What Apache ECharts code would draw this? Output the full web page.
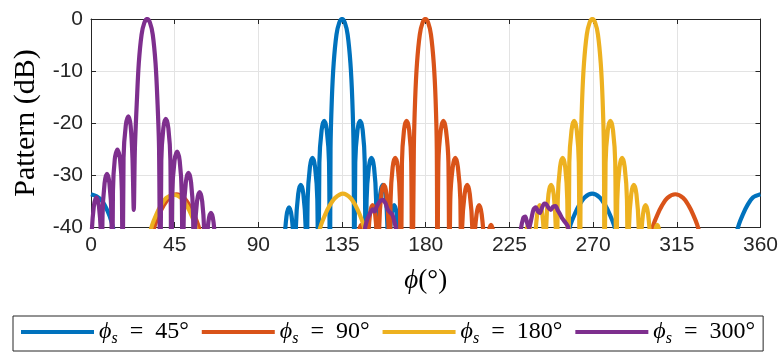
<!DOCTYPE html>
<html><head><meta charset="utf-8">
<script src="https://cdn.jsdelivr.net/npm/echarts@6/dist/echarts.min.js"></script>
<style>html,body{margin:0;padding:0;background:#fff}#c{width:781px;height:352px}</style>
</head><body><div id="c"></div><script>
const legendValues = ['45°', '90°', '180°', '300°'];
const seriesColors = ['#0072BD', '#D95319', '#EDB120', '#7E2F8E'];
const xMin = 0, xMax = 360, xStep = 45;
const yMin = -40, yMax = 0, yStep = 10;
const xName = '{i|ϕ}(°)';
const yName = 'Pattern (dB)';

const blueData = [
  [0,-33.7],[3,-34.1],[6,-35.0],[9,-37.0],[11,-39.0],[12.5,-41.6],[13.5,-60],
  [103.35,-60],[103.9,-44.2],[105.1,-38.0],[106.5,-36.2],[107.9,-38.0],[109.1,-44.2],[109.65,-60],
  [110.2,-39.9],[111.4,-33.7],[112.8,-31.9],[114.2,-33.7],[115.4,-39.9],[115.95,-60],
  [116.5,-34.7],[117.7,-28.5],[119.1,-26.7],[120.5,-28.5],[121.7,-34.7],[122.25,-60],
  [122.8,-27.6],[124.0,-21.4],[125.4,-19.6],[126.8,-21.4],[128.0,-27.6],[128.5,-60],
  [128.8,-25],[129.5,-15.5],[130.5,-8.5],[132,-3],[133.5,-0.7],[135,0],[136.5,-0.7],[138,-3],[139.5,-8.5],[140.5,-15.5],[141.2,-25],[141.6,-60],
  [142.1,-27.6],[143.3,-21.4],[144.7,-19.6],[146.1,-21.4],[147.2,-27.6],[147.7,-60],
  [148.2,-34.7],[149.4,-28.5],[150.8,-26.7],[152.2,-28.5],[153.3,-34.7],[153.8,-60],
  [154.3,-39.9],[155.5,-33.7],[156.9,-31.9],[158.3,-33.7],[159.4,-39.9],[159.9,-60],
  [160.4,-43.8],[161.6,-37.6],[163.0,-35.8],[164.4,-37.6],[165.5,-43.8],[166.0,-60],
  [255.5,-60],[256.5,-41.6],[258,-39.4],[260,-37.6],[262.5,-35.8],[265.5,-34.3],[269.5,-33.6],[273.5,-34.3],[276.5,-35.8],[279,-37.6],[281,-39.4],[282.5,-41.6],[283.5,-60],
  [346,-60],[347,-41.6],[348.5,-39.4],[350.5,-37.6],[353,-35.8],[356,-34.3],[360,-33.7]
];

const orangeData = [
  [0,-60],[32,-60],[33,-41.7],[34.5,-39.5],[36.5,-37.7],[39,-35.9],[42,-34.4],[46,-33.7],[50,-34.4],[53,-35.9],[55.5,-37.7],[57.5,-39.5],[59,-41.7],[60,-60],
  [142.3,-60],[142.8,-47.6],[143.9,-41.4],[145.3,-39.6],[146.7,-41.4],[147.8,-47.6],[148.35,-60],
  [148.9,-43.8],[150.0,-37.6],[151.4,-35.8],[152.8,-37.6],[153.9,-43.8],[154.45,-60],
  [155.0,-39.9],[156.1,-33.7],[157.5,-31.9],[158.9,-33.7],[160.0,-39.9],[160.55,-60],
  [161.1,-34.7],[162.2,-28.5],[163.6,-26.7],[165.0,-28.5],[166.1,-34.7],[166.65,-60],
  [167.2,-27.6],[168.3,-21.4],[169.7,-19.6],[171.1,-21.4],[172.2,-27.6],[172.75,-60],
  [173.6,-25],[174.3,-15.5],[175.3,-8.5],[176.8,-3],[178.3,-0.7],[179.8,0],[181.3,-0.7],[182.8,-3],[184.3,-8.5],[185.3,-15.5],[185.95,-25],[186.3,-60],
  [186.8,-27.6],[188.1,-21.4],[189.5,-19.6],[190.9,-21.4],[192.2,-27.6],[192.7,-60],
  [193.2,-34.7],[194.5,-28.5],[195.9,-26.7],[197.3,-28.5],[198.6,-34.7],[199.1,-60],
  [199.6,-39.9],[200.9,-33.7],[202.3,-31.9],[203.7,-33.7],[205.0,-39.9],[205.5,-60],
  [206.0,-43.8],[207.3,-37.6],[208.7,-35.8],[210.1,-37.6],[211.4,-43.8],[211.9,-60],
  [212.4,-47.6],[213.7,-41.4],[215.1,-39.6],[216.5,-41.4],[217.8,-47.6],[218.3,-60],
  [300,-60],[301,-41.7],[302.5,-39.5],[304.5,-37.7],[307,-35.9],[310,-34.4],[314.2,-33.7],[318.4,-34.4],[321.4,-35.9],[323.9,-37.7],[325.9,-39.5],[327.4,-41.7],[328.4,-60],[360,-60]
];

const yellowData = [
  [0,-60],[30.5,-60],[31.5,-41.7],[33,-39.5],[35,-37.7],[37.5,-35.9],[40.5,-34.4],[44.5,-33.8],[48.5,-34.4],[51.5,-35.9],[54,-37.7],[56,-39.5],[57.5,-41.7],[58.5,-60],
  [121.3,-60],[122.3,-41.7],[123.8,-39.5],[125.8,-37.7],[128.3,-35.9],[131.3,-34.4],[135.5,-33.6],[139.5,-34.4],[142.3,-35.9],[144.6,-37.7],[146.4,-39.5],[147.8,-41.7],[148.8,-60],
  [232.15,-60],[232.6,-47.6],[233.8,-41.4],[235.2,-39.6],[236.6,-41.4],[237.7,-47.6],[238.25,-60],
  [238.7,-43.8],[239.9,-37.6],[241.3,-35.8],[242.7,-37.6],[243.8,-43.8],[244.35,-60],
  [244.8,-39.9],[246.0,-33.7],[247.4,-31.9],[248.8,-33.7],[249.9,-39.9],[250.5,-60],
  [251.0,-34.7],[252.2,-28.5],[253.6,-26.7],[255.0,-28.5],[256.1,-34.7],[256.7,-60],
  [257.2,-27.6],[258.4,-21.4],[259.8,-19.6],[261.2,-21.4],[262.3,-27.6],[262.85,-60],
  [263.4,-25],[264.1,-15.5],[265.1,-8.5],[266.6,-3],[268.1,-0.7],[269.6,0],[271.1,-0.7],[272.6,-3],[274.1,-8.5],[275.1,-15.5],[275.8,-25],[276.15,-60],
  [276.7,-27.6],[277.9,-21.4],[279.3,-19.6],[280.7,-21.4],[281.9,-27.6],[282.45,-60],
  [283.0,-34.7],[284.2,-28.5],[285.6,-26.7],[287.0,-28.5],[288.2,-34.7],[288.75,-60],
  [289.3,-39.9],[290.5,-33.7],[291.9,-31.9],[293.3,-33.7],[294.5,-39.9],[295.05,-60],
  [295.6,-43.8],[296.8,-37.6],[298.2,-35.8],[299.6,-37.6],[300.8,-43.8],[301.35,-60],
  [301.9,-47.6],[303.1,-41.4],[304.5,-39.6],[305.9,-41.4],[307.1,-47.6],[307.65,-60],[360,-60]
];

const purpleData = [
  [0,-60],[0.3,-42.3],[1.5,-36.1],[2.9,-34.3],[4.3,-36.1],[5.4,-42.3],[5.8,-60],
  [6.2,-37.8],[7.3,-31.6],[8.6,-29.8],[9.9,-31.6],[11.0,-37.8],[11.4,-60],
  [11.8,-33.1],[12.8,-26.9],[14.2,-25.1],[15.6,-26.9],[16.6,-33.1],[17.0,-60],
  [17.5,-26.7],[18.7,-20.5],[20.1,-18.7],[21.3,-20.5],[22.3,-26.7],[23.0,-36.7],
  [23.6,-25],[24.7,-15.5],[25.7,-8.5],[27.2,-3],[28.7,-0.7],[30.2,0],[31.7,-0.7],[33.2,-3],[34.7,-8.5],[35.7,-15.5],[36.6,-25],[37.3,-60],
  [37.8,-27.2],[38.9,-21],[40.2,-19.2],[41.6,-21],[42.7,-27.2],[43.2,-60],
  [43.7,-33.5],[44.9,-27.3],[46.3,-25.5],[47.7,-27.3],[48.8,-33.5],[49.35,-60],
  [49.9,-37.6],[51.0,-31.4],[52.4,-29.6],[53.8,-31.4],[54.9,-37.6],[55.4,-60],
  [55.9,-41.3],[57.0,-35.1],[58.4,-33.3],[59.8,-35.1],[60.9,-41.3],[61.45,-60],
  [62.0,-45.3],[63.1,-39.1],[64.5,-37.3],[65.9,-39.1],[67.0,-45.3],[67.5,-60],
  [146.5,-60],[147.3,-40.5],[148.5,-38.6],[150,-37.4],[151.5,-36.6],[152.5,-37],[153.5,-36.2],[155,-35.2],[156.8,-34.8],[158.3,-35.4],[159.5,-36.6],[160.8,-37.2],[162,-37.6],[163,-38.8],[164,-40.5],[165,-60],
  [229.5,-60],[231,-41],[232.5,-38.2],[233.5,-38],[234.5,-39.2],[235.5,-40.2],[236.8,-38.4],[238,-36.6],[239.2,-36.2],[240.3,-37.0],[241.3,-37.3],[242.5,-36.3],[243.8,-35.5],[244.8,-35.6],[246,-36.3],[247.2,-36.7],[248.5,-36.1],[249.8,-36],[251,-36.8],[252.3,-37.6],[253.5,-38.4],[255,-39.1],[256.5,-40],[258,-44],[259,-60],[360,-60]
];

const allData = [blueData, orangeData, yellowData, purpleData];
const seriesNames = legendValues.map(v => 'ϕs = ' + v);

const axisColor = '#262626';
const gridColor = '#e3e3e3';
const serif = 'Liberation Serif, DejaVu Serif, serif';

const chart = echarts.init(document.getElementById('c'), null, {renderer: 'canvas'});
chart.setOption({
  animation: false,
  backgroundColor: '#fff',
  grid: {left: 91, right: 19, top: 19, bottom: 125, containLabel: false},
  legend: {
    left: 13, top: 316,
    padding: [4, 8, 4, 8],
    itemGap: 13, itemWidth: 73, itemHeight: 4,
    icon: 'rect',
    borderColor: axisColor, borderWidth: 1, borderRadius: 0,
    data: seriesNames,
    formatter: function (name) {
      const v = name.split('= ')[1];
      return '{p|ϕ}{s|s}{e| = }{v|' + v + '}';
    },
    textStyle: {
      color: '#000',
      rich: {
        p: {fontFamily: serif, fontStyle: 'italic', fontSize: 24, lineHeight: 30, verticalAlign: 'middle'},
        s: {fontFamily: serif, fontStyle: 'italic', fontSize: 16, lineHeight: 16, verticalAlign: 'bottom'},
        e: {fontFamily: serif, fontSize: 24, lineHeight: 30, verticalAlign: 'middle', padding: [0, 6, 0, 6]},
        v: {fontFamily: serif, fontSize: 24, lineHeight: 30, verticalAlign: 'middle'}
      }
    }
  },
  xAxis: [{
    type: 'value', min: xMin, max: xMax, interval: xStep, position: 'bottom',
    axisLine: {show: true, onZero: false, lineStyle: {color: axisColor, width: 1}},
    axisTick: {show: true, inside: true, length: 5, lineStyle: {color: axisColor, width: 1}},
    axisLabel: {color: axisColor, fontSize: 21, fontFamily: 'Liberation Sans, Arial, sans-serif', margin: 8},
    splitLine: {show: true, lineStyle: {color: gridColor, width: 1}},
    name: xName, nameLocation: 'middle', nameGap: 40,
    nameTextStyle: {color: '#000', fontFamily: serif, fontSize: 27,
      rich: {i: {fontFamily: serif, fontStyle: 'italic', fontSize: 27}}}
  }, {
    type: 'value', min: xMin, max: xMax, interval: xStep, position: 'top',
    axisLine: {show: true, onZero: false, lineStyle: {color: axisColor, width: 1}},
    axisTick: {show: true, inside: true, length: 5, lineStyle: {color: axisColor, width: 1}},
    axisLabel: {show: false}, splitLine: {show: false}
  }],
  yAxis: [{
    type: 'value', min: yMin, max: yMax, interval: yStep, position: 'left',
    axisLine: {show: true, onZero: false, lineStyle: {color: axisColor, width: 1}},
    axisTick: {show: true, inside: true, length: 5, lineStyle: {color: axisColor, width: 1}},
    axisLabel: {color: axisColor, fontSize: 21, fontFamily: 'Liberation Sans, Arial, sans-serif', margin: 8},
    splitLine: {show: true, lineStyle: {color: gridColor, width: 1}},
    name: yName, nameLocation: 'middle', nameGap: 50, nameRotate: 90,
    nameTextStyle: {color: '#000', fontFamily: serif, fontSize: 30}
  }, {
    type: 'value', min: yMin, max: yMax, interval: yStep, position: 'right',
    axisLine: {show: true, onZero: false, lineStyle: {color: axisColor, width: 1}},
    axisTick: {show: true, inside: true, length: 5, lineStyle: {color: axisColor, width: 1}},
    axisLabel: {show: false}, splitLine: {show: false}
  }],
  series: allData.map((d, i) => ({
    name: seriesNames[i],
    type: 'line',
    xAxisIndex: 0, yAxisIndex: 0,
    data: d,
    showSymbol: false, symbol: 'none',
    smooth: 0.3,
    clip: true,
    color: seriesColors[i],
    lineStyle: {color: seriesColors[i], width: 4.2},
    emphasis: {disabled: true}
  }))
});
</script></body></html>
